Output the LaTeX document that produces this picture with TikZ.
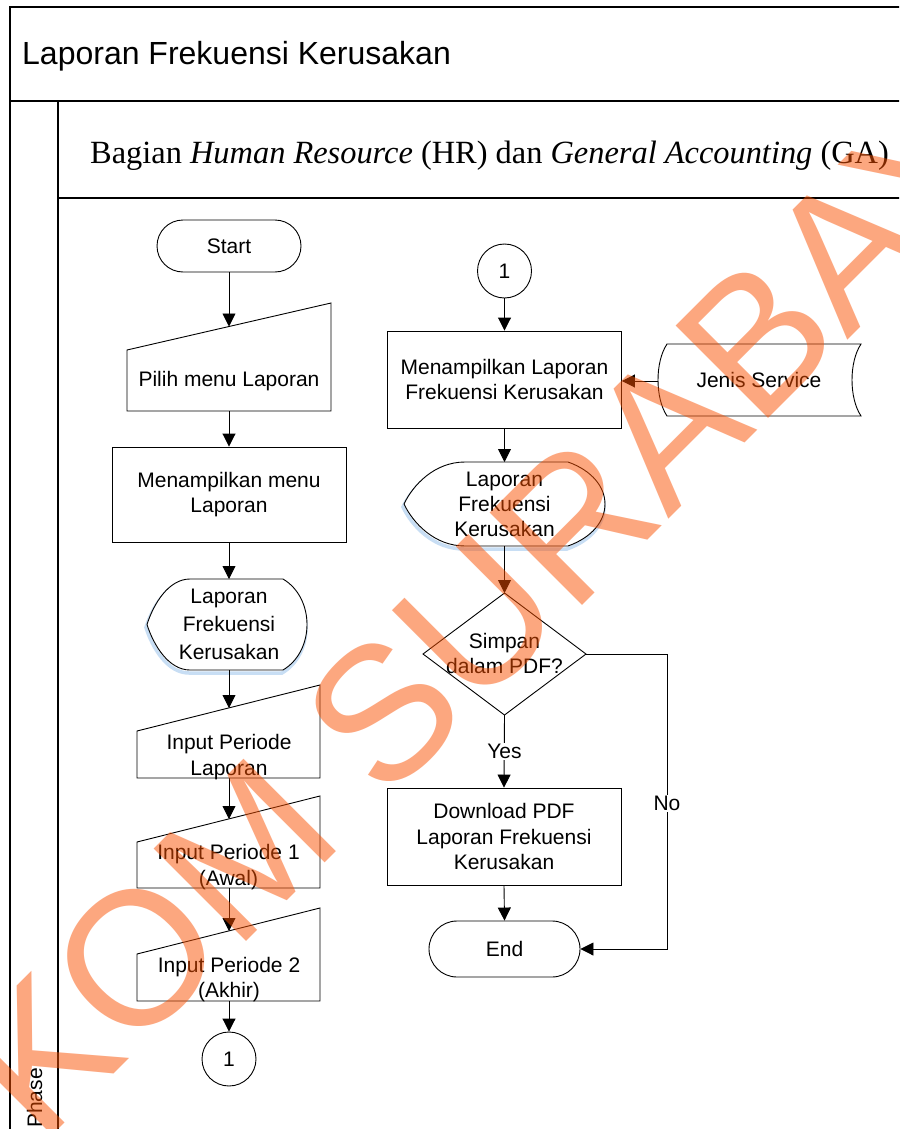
\documentclass[tikz,border=0pt]{standalone}
\usepackage{fontspec}
\setmainfont{Liberation Sans}
\newfontfamily\laneserif{Liberation Serif}
\usetikzlibrary{arrows.meta}
\definecolor{wmorange}{RGB}{250,80,0}
\definecolor{glowblue}{RGB}{200,222,244}

\begin{document}
\begin{tikzpicture}[x=1pt,y=-1pt,
  outline/.style={draw=black,line width=0.9pt},
  laneline/.style={draw=black,line width=2pt},
  txt/.style={font=\fontsize{21}{25.5}\selectfont,align=center,inner sep=0pt},
  flow/.style={draw=black,line width=0.9pt,-{Triangle[width=13pt,length=13pt]}},
  glow/.style={draw=glowblue,line width=3.5pt},
  termbox/.style={outline,txt,rectangle},
  procbox/.style={outline,txt,rectangle},
  connector/.style={outline,txt,circle,minimum size=54pt},
  flowlabel/.style={txt,fill=white,inner sep=1.5pt},
]
\useasboundingbox (0,0) rectangle (899,1129);
\clip (0,0) rectangle (899,1129);
\fill[white] (0,0) rectangle (899,1129);

% pool / lane frame
\draw[laneline] (9.5,1140) -- (9.5,7) -- (910,7);
\draw[laneline] (9.5,101) -- (910,101);
\draw[laneline] (58,101) -- (58,1140);
\draw[laneline] (58,198) -- (910,198);
\node[font=\fontsize{32}{38}\selectfont,anchor=base west,inner sep=0pt] (pool) at (22,65) {Laporan Frekuensi Kerusakan};
\node[font=\laneserif\fontsize{32.4}{38}\selectfont,anchor=base west,inner sep=0pt] (lane) at (90,163)
  {Bagian \textit{Human Resource} (HR) dan \textit{General Accounting} (GA)};
\node[txt,rotate=90,anchor=base] (phase) at (42,1098) {Phase};

% ---------- left column ----------
\node[termbox,minimum width=144pt,minimum height=52pt,rounded corners=26pt] (start) at (229,246) {Start};

\draw[outline] (127,350) -- (331,303) -- (331,411) -- (127,411) -- cycle;
\node[txt] (pilih) at (229,381.5) {Pilih menu Laporan};
\coordinate (pilih-in) at (229,326.5);
\coordinate (pilih-out) at (229,411);

\node[procbox,minimum width=234pt,minimum height=95pt] (menu) at (229,494.5) {Menampilkan menu\\Laporan};

% report display (left)
\draw[glow,shift={(-1,3)}] (190,579) -- (283,579) .. controls (315,598) and (315,651) .. (283,670) -- (190,670)
  .. controls (168.5,670) and (153.5,645) .. (147,624.5) .. controls (153.5,604) and (168.5,579) .. (190,579) -- cycle;
\draw[outline,fill=white] (190,579) -- (283,579) .. controls (315,598) and (315,651) .. (283,670) -- (190,670)
  .. controls (168.5,670) and (153.5,645) .. (147,624.5) .. controls (153.5,604) and (168.5,579) .. (190,579) -- cycle;
\node[txt,font=\fontsize{21}{28}\selectfont] (lapkiri) at (229,624.5) {Laporan\\Frekuensi\\Kerusakan};
\coordinate (lapkiri-in) at (229,579);
\coordinate (lapkiri-out) at (229,670);

% period inputs
\draw[outline] (137,731) -- (320,685) -- (320,778) -- (137,778) -- cycle;
\node[txt] (ipl) at (229,757) {Input Periode\\Laporan};
\coordinate (ipl-in) at (229,708);
\coordinate (ipl-out) at (229,778);

\draw[outline] (137,842) -- (320,796) -- (320,888) -- (137,888) -- cycle;
\node[txt] (ip1) at (228.5,867) {Input Periode 1\\(Awal)};
\coordinate (ip1-in) at (229,819);
\coordinate (ip1-out) at (229,888);

\draw[outline] (137,954) -- (320,908) -- (320,1001) -- (137,1001) -- cycle;
\node[txt] (ip2) at (229,979.5) {Input Periode 2\\(Akhir)};
\coordinate (ip2-in) at (229,931);
\coordinate (ip2-out) at (229,1001);

\node[connector] (offpage) at (229,1059) {1};

\draw[flow] (start.south) -- (pilih-in);
\draw[flow] (pilih-out) -- (menu.north);
\draw[flow] (menu.south) -- (lapkiri-in);
\draw[flow] (lapkiri-out) -- (ipl-in);
\draw[flow] (ipl-out) -- (ip1-in);
\draw[flow] (ip1-out) -- (ip2-in);
\draw[flow] (ip2-out) -- (offpage.north);

% ---------- right column ----------
\node[connector] (onpage) at (504.5,271) {1};
\node[procbox,minimum width=234pt,minimum height=97pt] (tampil) at (504.5,379.5) {Menampilkan Laporan\\Frekuensi Kerusakan};

% stored data
\draw[outline] (667,344) -- (861,344) .. controls (849,362) and (849,398) .. (861,416) -- (667,416)
  .. controls (655,398) and (655,362) .. (667,344) -- cycle;
\node[txt] (jenis) at (759,379.5) {Jenis Service};
\coordinate (jenis-out) at (658,381);

% report display (right)
\draw[glow,shift={(-1,3)}] (465,462) -- (568,462) .. controls (617.3,479.6) and (617.3,528.4) .. (568,546) -- (465,546)
  .. controls (434.5,546) and (413,523) .. (404,504) .. controls (413,485) and (434.5,462) .. (465,462) -- cycle;
\draw[outline,fill=white] (465,462) -- (568,462) .. controls (617.3,479.6) and (617.3,528.4) .. (568,546) -- (465,546)
  .. controls (434.5,546) and (413,523) .. (404,504) .. controls (413,485) and (434.5,462) .. (465,462) -- cycle;
\node[txt,font=\fontsize{21}{25}\selectfont] (lapkanan) at (504.5,504.5) {Laporan\\Frekuensi\\Kerusakan};
\coordinate (lapkanan-in) at (504.5,462);
\coordinate (lapkanan-out) at (504.5,546);

% decision
\coordinate (dec-n) at (504.5,593);
\coordinate (dec-e) at (586,654);
\coordinate (dec-s) at (504.5,715);
\coordinate (dec-w) at (423,654);
\draw[outline] (dec-n) -- (dec-e) -- (dec-s) -- (dec-w) -- cycle;
\node[txt] (simpan) at (504.5,653.5) {Simpan\\dalam PDF?};

\node[procbox,minimum width=234pt,minimum height=97pt] (download) at (504,836.5) {Download PDF\\Laporan Frekuensi\\Kerusakan};
\node[termbox,minimum width=151pt,minimum height=56pt,rounded corners=28pt] (end) at (504.5,949) {End};

\coordinate (no-top) at (667,654);
\coordinate (no-bot) at (667,949);

\draw[flow] (onpage.south) -- (tampil.north);
\draw[flow] (jenis-out) -- (jenis-out -| tampil.east);
\draw[flow] (tampil.south) -- (lapkanan-in);
\draw[flow] (lapkanan-out) -- (dec-n);
\draw[flow] (dec-s) -- (download.north);
\draw[flow] (download.south) -- (end.north);
\draw[flow] (dec-e) -- (no-top) -- (no-bot) -- (end.east);
\node[flowlabel] (yes) at (504.5,751.5) {Yes};
\node[flowlabel] (no) at (667,803.5) {No};

% watermark
\node[font=\fontsize{190}{190}\selectfont,text=wmorange,opacity=0.5,rotate=45,inner sep=0pt] (mark) at (418,677) {STIKOM SURABAYA};
\end{tikzpicture}
\end{document}
